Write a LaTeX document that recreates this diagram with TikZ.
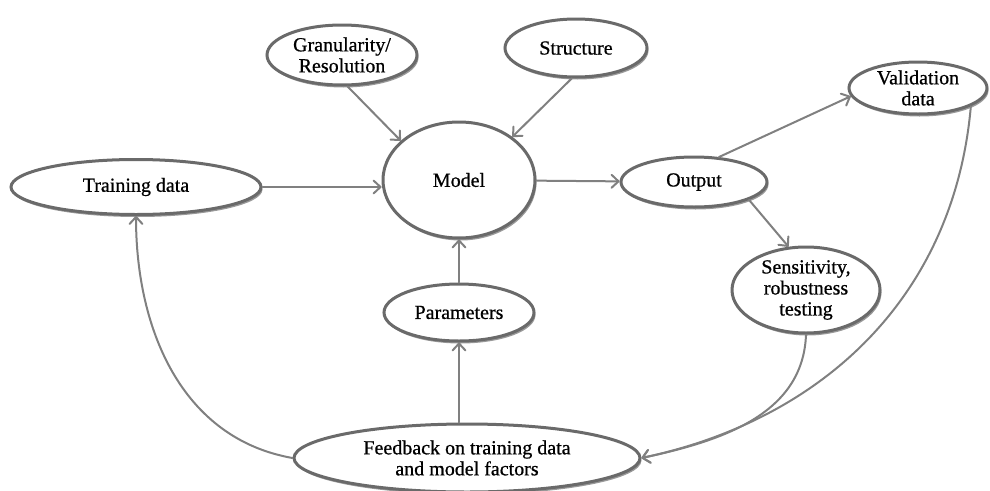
\documentclass[tikz,border=0pt]{standalone}
\usepackage{fontspec}
\setmainfont{Liberation Serif}
\newfontfamily\labelfont{Liberation Serif}[FakeBold=0.7]
\usetikzlibrary{arrows.meta,positioning,shapes.geometric,shadows}
\definecolor{rim}{HTML}{6A6A6A}
\definecolor{link}{HTML}{808080}
\tikzset{
  oval/.style={ellipse, draw=rim, line width=3pt, fill=white, align=center, inner sep=0pt,
    font=\labelfont\fontsize{20}{21}\selectfont,
    drop shadow={shadow xshift=1.5pt, shadow yshift=-2.5pt, fill=black, opacity=0.4}},
  arrow/.style={draw=link, line width=2pt, line cap=round,
    -{Straight Barb[length=7pt, width=13pt, round]}}
}

\begin{document}
\begin{tikzpicture}[x=1pt, y=-1pt, node distance=40pt]
    \useasboundingbox (0,0) rectangle (990,490);

    \node[oval, minimum width=152pt, minimum height=116pt] (model) at (459,180) {Model};
    \node[oval, minimum width=250pt, minimum height=55pt, left=119pt of model, yshift=-7pt] (train) {Training data};
    \node[oval, minimum width=146pt, minimum height=50pt, right=83pt of model, yshift=-2pt] (output) {Output};
    \node[oval, minimum width=150pt, minimum height=57pt, below=43pt of model] (params) {Parameters};
    \node[oval, minimum width=346pt, minimum height=68pt, below=80pt of params, xshift=8pt] (feedback) {Feedback on training data\\ and model factors};
    \node[oval, minimum width=150pt, minimum height=60pt] (granularity) at (342,55) {Granularity/\\ Resolution};
    \node[oval, minimum width=142pt, minimum height=58pt] (structure) at (576,48) {Structure};
    \node[oval, minimum width=138pt, minimum height=52pt] (validation) at (918,88) {Validation\\ data};
    \node[oval, minimum width=148pt, minimum height=86pt] (sensitivity) at (806,290) {Sensitivity,\\ robustness\\ testing};

    \draw[arrow] (train.east) -- (train.east -| model.west);
    \draw[arrow] (granularity.-80) -- (model.146);
    \draw[arrow] (structure.-98) -- (model.39);
    \draw[arrow] (model) -- (output);
    \draw[arrow] (params) -- (model);
    \draw[arrow] (params.south |- feedback.north) -- (params.south);
    \draw[arrow] (output.45) -- (validation.187);
    \draw[arrow] (output.-18) -- (sensitivity.112);

    % feedback loops
    \draw[arrow] (feedback.west) to[out=170, in=-90] (train.south);
    \draw[arrow] (sensitivity.south) to[out=-92, in=12] (feedback.east);
    \draw[arrow] (validation.-19) to[out=-95, in=12] (feedback.east);
\end{tikzpicture}
\end{document}
